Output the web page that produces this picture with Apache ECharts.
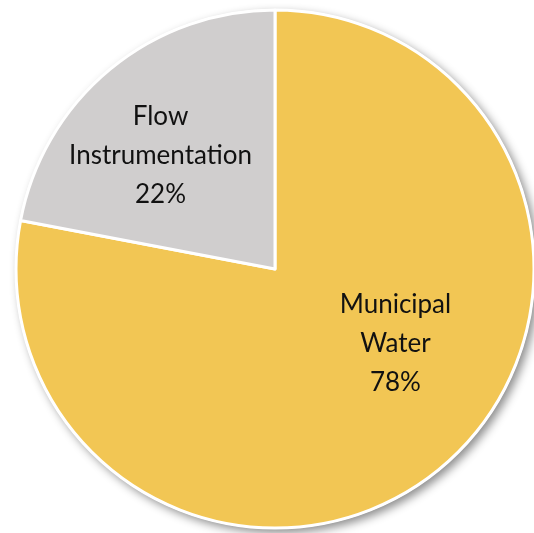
<!DOCTYPE html>
<html>
<head>
<meta charset="utf-8">
<script src="https://cdn.jsdelivr.net/npm/echarts@6/dist/echarts.min.js"></script>
<style>
  html, body { margin: 0; padding: 0; background: #ffffff; }
  #chart { width: 534px; height: 533px; }
</style>
</head>
<body>
<div id="chart"></div>
<script>
// Market share by segment
const categories = ['Municipal\nWater', 'Flow\nInstrumentation'];
const shares = [78, 22];
const colors = ['#F2C654', '#D0CECE'];

// label offsets from each slice's default inside position
const labelShift = [[36, -27], [-30, -11]];

const center = [275, 269];
const radius = 259;

const chart = echarts.init(document.getElementById('chart'), null, { renderer: 'canvas' });

const total = shares.reduce((a, b) => a + b, 0);

chart.setOption({
  animation: false,
  backgroundColor: '#ffffff',
  series: [
    {
      // whole-pie drop shadow underlay
      type: 'pie',
      silent: true,
      center: center,
      radius: radius + 1,
      label: { show: false },
      itemStyle: {
        color: '#ffffff',
        shadowBlur: 10,
        shadowOffsetX: 4,
        shadowOffsetY: 4,
        shadowColor: 'rgba(0,0,0,0.45)'
      },
      data: [{ value: total, name: 'all' }]
    },
    {
      type: 'pie',
      center: center,
      radius: radius,
      startAngle: 90,
      clockwise: true,
      itemStyle: { borderColor: '#ffffff', borderWidth: 3 },
      label: {
        show: true,
        position: 'inside',
        formatter: p => p.name + '\n' + p.percent.toFixed(0) + '%',
        fontFamily: 'Lato',
        fontSize: 26,
        lineHeight: 39,
        color: '#111111',
        align: 'center'
      },
      labelLine: { show: false },
      labelLayout: params => {
        const s = labelShift[params.dataIndex];
        return { dx: s[0], dy: s[1] };
      },
      data: categories.map((c, i) => ({
        name: c,
        value: shares[i],
        itemStyle: { color: colors[i] }
      }))
    }
  ]
});
</script>
</body>
</html>
